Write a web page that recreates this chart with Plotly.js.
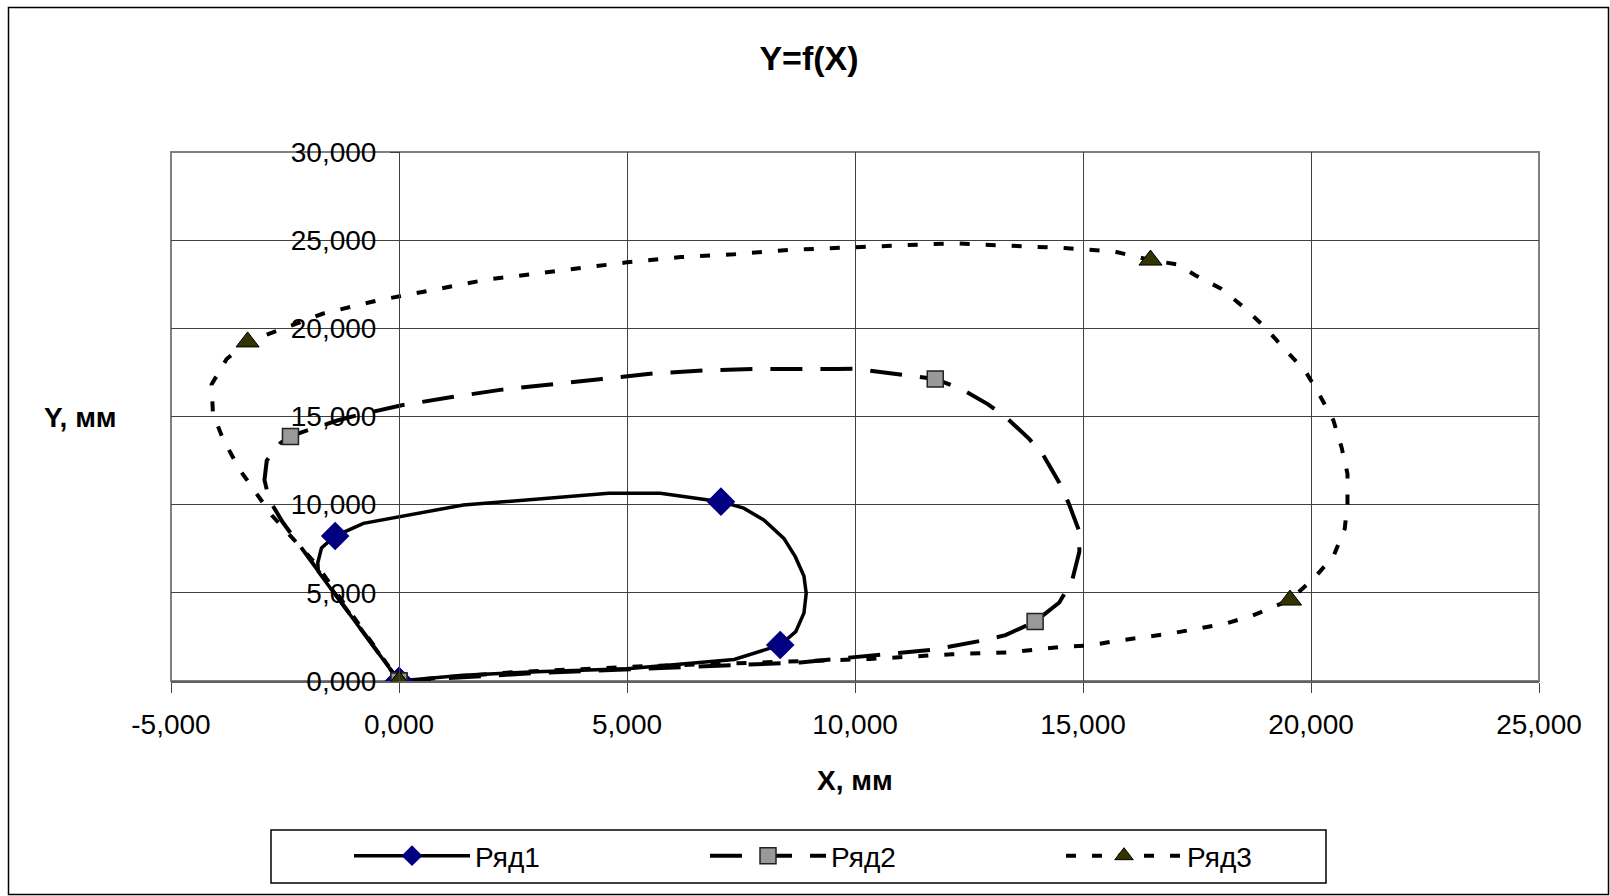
<!DOCTYPE html>
<html><head><meta charset="utf-8">
<script src="https://cdn.plot.ly/plotly-3.0.1.min.js"></script>
<style>html,body{margin:0;padding:0;background:#fff}#chart{width:1610px;height:896px}</style>
</head><body><div id="chart"></div>
<script>
// ---- data ----
const seriesNames = ['Ряд1', 'Ряд2', 'Ряд3'];

const x1 = [0, 1.4, 3.0, 5.0, 7.35, 8.36, 8.7, 8.88, 8.93, 8.88, 8.69, 8.44, 8.0, 7.56, 7.06, 5.73, 4.6, 1.41, -0.78, -1.40, -1.70, -1.78, -1.77, 0];
const y1 = [0, 0.33, 0.52, 0.7, 1.22, 2.04, 2.8, 3.85, 4.97, 5.95, 7.05, 8.09, 9.13, 9.8, 10.17, 10.65, 10.65, 9.98, 8.94, 8.22, 7.54, 6.72, 6.2, 0];
const marks1 = [0, 5, 14, 19, 23];

const x2 = [0, 3.0, 7.0, 8.8, 9.93, 11.7, 12.8, 13.3, 13.95, 14.48, 14.76, 14.92, 14.92, 14.68, 14.48, 14.13, 13.82, 13.31, 12.92, 12.37, 11.76, 10.68, 9.98, 9.59, 7.77, 6.69, 5.57, 4.45, 3.35, 2.22, 1.16, 0.06, -0.93, -1.37, -2.14, -2.38, -2.6, -2.9, -2.95, -2.85, -2.55, -1.9, 0];
const y2 = [0, 0.45, 0.87, 1.05, 1.34, 1.77, 2.3, 2.6, 3.37, 4.45, 5.69, 7.33, 8.47, 10.12, 11.25, 12.8, 13.73, 14.96, 15.69, 16.51, 17.13, 17.48, 17.71, 17.69, 17.69, 17.61, 17.44, 17.13, 16.82, 16.51, 16.1, 15.64, 15.06, 14.76, 14.1, 13.87, 13.5, 12.5, 11.4, 10.3, 9.0, 6.7, 0];
const marks2 = [0, 8, 20, 35, 42];

const x3 = [0, 2.5, 5.5, 8.05, 10.33, 12.13, 13.35, 14.52, 15.15, 15.78, 16.94, 18.13, 18.72, 19.54, 20.1, 20.5, 20.74, 20.8, 20.8, 20.67, 20.49, 20.2, 19.89, 19.42, 18.97, 18.53, 18.02, 17.47, 17.08, 16.48, 15.7, 14.6, 13.4, 12.17, 10.96, 9.74, 8.57, 7.35, 6.18, 4.96, 3.09, 1.92, 0.75, -0.49, -1.66, -2.83, -3.32, -3.78, -4.11, -4.08, -3.86, -3.49, -3.16, -2.79, -2.5, -2.06, -1.81, 0];
const y3 = [0, 0.5, 0.85, 1.05, 1.25, 1.52, 1.62, 1.93, 2.02, 2.29, 2.7, 3.26, 3.71, 4.59, 5.92, 7.12, 8.64, 10.09, 11.75, 13.26, 14.79, 16.16, 17.52, 18.83, 20.11, 21.19, 22.26, 23.0, 23.62, 23.87, 24.35, 24.55, 24.7, 24.82, 24.7, 24.55, 24.45, 24.2, 24.04, 23.73, 23.11, 22.76, 22.18, 21.57, 20.84, 19.7, 19.23, 18.26, 16.82, 15.17, 13.73, 11.97, 10.74, 9.4, 8.57, 7.33, 6.61, 0];
const marks3 = [0, 13, 29, 46, 57];

const xTickVals = [-5, 0, 5, 10, 15, 20, 25];
const xTickLabels = ['-5,000', '0,000', '5,000', '10,000', '15,000', '20,000', '25,000'];
const yTickVals = [0, 5, 10, 15, 20, 25, 30];
const yTickLabels = ['0,000', '5,000', '10,000', '15,000', '20,000', '25,000', '30,000'];

const chartTitle = 'Y=f(X)';
const xTitle = 'X, мм';
const yTitle = 'Y, мм';

// ---- styles ----
const FONT = '"Liberation Sans", Arial, sans-serif';
const styles = [
  {dash: 'solid', width: 3.5, symbol: 'diamond', size: 22, fill: '#000080', lc: '#000080', lw: 0},
  {dash: '32px,18px', width: 4, symbol: 'square', size: 16, fill: '#999999', lc: '#222222', lw: 1.5},
  {dash: '10px,16px', width: 4, symbol: 'triangle-up', size: 20, fill: '#333300', lc: '#000000', lw: 1}
];
const allX = [x1, x2, x3], allY = [y1, y2, y3], allMarks = [marks1, marks2, marks3];

const traces = [];
for (let s = 0; s < 3; s++) {
  const st = styles[s];
  traces.push({
    type: 'scatter', mode: 'lines', x: allX[s], y: allY[s],
    name: seriesNames[s], legendgroup: 'g' + s, showlegend: false,
    line: {color: '#000', width: st.width, dash: st.dash},
    hoverinfo: 'skip'
  });
}
for (let s = 0; s < 3; s++) {
  const st = styles[s];
  const mx = [], my = [];
  allMarks[s].forEach(i => { mx.push(allX[s][i], null); my.push(allY[s][i], null); });
  traces.push({
    type: 'scatter', mode: 'lines+markers', x: mx, y: my, connectgaps: false,
    name: seriesNames[s], legendgroup: 'g' + s, showlegend: true,
    line: {color: '#000', width: st.width, dash: st.dash},
    marker: {symbol: st.symbol, size: st.size, color: st.fill, line: {color: st.lc, width: st.lw}}
  });
}

const L = 171, R = 71, T = 152, B = 215;
const W = 1610, H = 896;
const pw = W - L - R, ph = H - T - B;
const px = v => (v - L) / pw;        // pixel -> paper x
const py = v => (H - B - v) / ph;    // pixel -> paper y

const layout = {
  width: W, height: H,
  margin: {l: L, r: R, t: T, b: B, pad: 0},
  paper_bgcolor: '#fff', plot_bgcolor: '#fff',
  font: {family: FONT, size: 28, color: '#000'},
  title: {text: chartTitle, font: {family: FONT, size: 34, weight: 700, color: '#000'},
          x: 809 / W, xanchor: 'center', xref: 'container', y: 1 - 58 / H, yanchor: 'middle', yref: 'container'},
  showlegend: true,
  legend: {orientation: 'h', x: px(349), xanchor: 'left', y: py(856), yanchor: 'middle',
           bgcolor: 'rgba(0,0,0,0)', borderwidth: 0, itemwidth: 116, entrywidth: 225, entrywidthmode: 'pixels',
           font: {family: FONT, size: 28, color: '#000'}, itemclick: false, itemdoubleclick: false},
  xaxis: {range: [-5, 25], tickvals: xTickVals, ticktext: xTickLabels, ticks: 'outside', ticklen: 10,
          tickcolor: '#404040', tickwidth: 1, showgrid: true, gridcolor: '#404040', gridwidth: 1,
          zeroline: false, showline: true, linecolor: '#606060', linewidth: 2, ticklabelstandoff: 7,
          tickfont: {family: FONT, size: 28, color: '#000'}, fixedrange: true},
  yaxis: {range: [0, 30], tickvals: yTickVals, ticktext: yTickLabels, ticks: 'outside', ticklen: 9,
          tickcolor: '#404040', tickwidth: 1, showgrid: true, gridcolor: '#404040', gridwidth: 1,
          zeroline: false, showline: true, linecolor: '#404040', linewidth: 1, ticklabelstandoff: 8,
          anchor: 'free', position: 1 / 6, side: 'left',
          tickfont: {family: FONT, size: 28, color: '#000'}, fixedrange: true},
  annotations: [
    {text: '<b>' + xTitle + '</b>', xref: 'paper', yref: 'paper', x: px(855), y: py(780),
     xanchor: 'center', yanchor: 'middle', showarrow: false, font: {family: FONT, size: 28, color: '#000'}},
    {text: '<b>' + yTitle + '</b>', xref: 'paper', yref: 'paper', x: px(80), y: py(417),
     xanchor: 'center', yanchor: 'middle', showarrow: false, font: {family: FONT, size: 28, color: '#000'}}
  ],
  shapes: [
    {type: 'rect', xref: 'paper', yref: 'paper', x0: 0, x1: 1, y0: 0, y1: 1,
     line: {color: '#808080', width: 2}, layer: 'below'},
    {type: 'rect', xref: 'paper', yref: 'paper', x0: px(271), x1: px(1326), y0: py(883), y1: py(830),
     line: {color: '#000', width: 1.5}},
    {type: 'rect', xref: 'paper', yref: 'paper', x0: px(8.5), x1: px(1608.5), y0: py(894.5), y1: py(7.5),
     line: {color: '#000', width: 1.5}}
  ]
};

Plotly.newPlot('chart', traces, layout, {displayModeBar: false, staticPlot: true});
</script>
</body></html>
